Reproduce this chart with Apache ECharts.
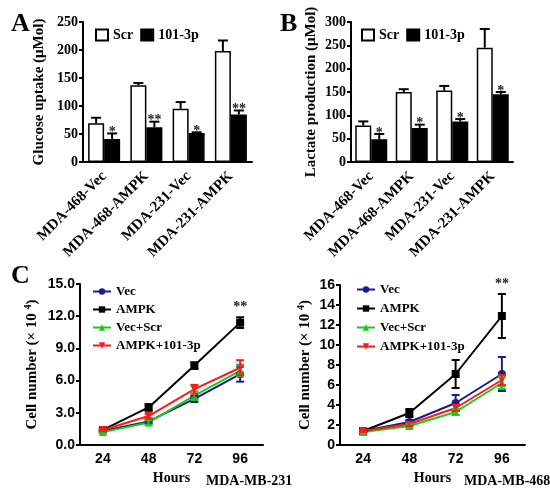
<!DOCTYPE html>
<html><head><meta charset="utf-8">
<script src="https://cdn.jsdelivr.net/npm/echarts@6/dist/echarts.min.js"></script>
<style>html,body{margin:0;padding:0;background:#fff}#c{width:550px;height:488px}</style>
</head><body><div id="c"></div>
<script>
// ---- data ----
const barCats = ['MDA-468-Vec', 'MDA-468-AMPK', 'MDA-231-Vec', 'MDA-231-AMPK'];
const glucoseScr = [69, 137, 95, 198];
const glucoseScrErr = [10, 4, 12, 19];
const glucose101 = [41, 62, 52, 85];
const glucose101Err = [10, 10, 1, 7];
const glucoseStars = ['*', '**', '*', '**'];
const lactateScr = [78, 150, 153, 245];
const lactateScrErr = [9, 6, 10, 40];
const lactate101 = [49, 73, 87, 145];
const lactate101Err = [11, 7, 5, 5];
const lactateStars = ['*', '*', '*', '*'];
const hours = ['24', '48', '72', '96'];
const lineNames = ['Vec', 'AMPK', 'Vec+Scr', 'AMPK+101-3p'];
// MDA-MB-231
const c231 = {
  'Vec': [1.3, 2.2, 4.3, 6.6],
  'AMPK': [1.4, 3.5, 7.4, 11.4],
  'Vec+Scr': [1.2, 2.1, 4.6, 6.9],
  'AMPK+101-3p': [1.4, 2.7, 5.2, 7.2]
};
const c231Err = {
  'Vec': [0.1, 0.2, 0.3, 0.7],
  'AMPK': [0.1, 0.3, 0.3, 0.5],
  'Vec+Scr': [0.1, 0.2, 0.4, 0.5],
  'AMPK+101-3p': [0.1, 0.2, 0.4, 0.7]
};
const c231Stars = ['', '', '', '**'];
// MDA-MB-468
const c468 = {
  'Vec': [1.4, 2.3, 4.2, 7.1],
  'AMPK': [1.4, 3.2, 7.1, 12.9],
  'Vec+Scr': [1.3, 1.9, 3.3, 6.2],
  'AMPK+101-3p': [1.4, 2.1, 3.7, 6.5]
};
const c468Err = {
  'Vec': [0.1, 0.2, 0.8, 1.7],
  'AMPK': [0.1, 0.4, 1.4, 2.2],
  'Vec+Scr': [0.1, 0.2, 0.3, 0.6],
  'AMPK+101-3p': [0.1, 0.2, 0.3, 0.5]
};
const c468Stars = ['', '', '', '**'];
const glucoseTicks = {min: 0, max: 250, interval: 50};
const lactateTicks = {min: 0, max: 300, interval: 50};
const c231Ticks = {min: 0, max: 15, interval: 3};
const c468Ticks = {min: 0, max: 16, interval: 2};

// ---- styles ----
const SERIF = '"Liberation Serif", "Times New Roman", serif';
const SANS = '"Liberation Sans", Arial, sans-serif';
const lineColors = {'Vec': '#1c1c8a', 'AMPK': '#000000', 'Vec+Scr': '#22c622', 'AMPK+101-3p': '#ff1a1a'};
const lineSymbols = {'Vec': 'circle', 'AMPK': 'rect', 'Vec+Scr': 'triangle', 'AMPK+101-3p': 'triangle'};
const lineRot = {'Vec': 0, 'AMPK': 0, 'Vec+Scr': 0, 'AMPK+101-3p': 180};
const BAR_W = 16;

function errSeries(xi, vals, errs, stars, offset, color, twoSided, starGap, capW) {
  return {
    type: 'custom', xAxisIndex: xi, yAxisIndex: xi, clip: false, z: 5,
    data: vals.map((v, i) => [i, v, errs[i]]),
    renderItem: function (params, api) {
      const x = api.value(0), v = api.value(1), e = api.value(2);
      const p = api.coord([x, v]);
      const pt = api.coord([x, v + e]);
      const pb = twoSided ? api.coord([x, v - e]) : p;
      const cx = p[0] + offset;
      const st = {stroke: color, lineWidth: 2};
      const ch = [
        {type: 'line', shape: {x1: cx, y1: pt[1], x2: cx, y2: pb[1]}, style: st},
        {type: 'line', shape: {x1: cx - capW, y1: pt[1], x2: cx + capW, y2: pt[1]}, style: st}
      ];
      if (twoSided) ch.push({type: 'line', shape: {x1: cx - capW, y1: pb[1], x2: cx + capW, y2: pb[1]}, style: st});
      const s = stars ? stars[params.dataIndex] : '';
      if (s) ch.push({type: 'text', style: {text: s, x: cx, y: pt[1] - starGap, align: 'center', verticalAlign: 'middle',
        font: 'bold 14px ' + SERIF, fill: '#222'}});
      return {type: 'group', children: ch};
    }
  };
}

function barAxisX(gi) {
  return {type: 'category', gridIndex: gi, data: barCats,
    axisLine: {lineStyle: {color: '#000', width: 2}},
    axisTick: {alignWithLabel: true, length: 4, lineStyle: {color: '#000', width: 2}},
    axisLabel: {rotate: 45, margin: 12, color: '#000', fontFamily: SERIF, fontWeight: 'bold', fontSize: 15}};
}
function barAxisY(gi, t, name, gap) {
  return {type: 'value', gridIndex: gi, min: t.min, max: t.max, interval: t.interval,
    name: name, nameLocation: 'middle', nameGap: gap, nameRotate: 90,
    nameTextStyle: {color: '#000', fontFamily: SERIF, fontWeight: 'bold', fontSize: 15},
    splitLine: {show: false},
    axisLine: {show: true, lineStyle: {color: '#000', width: 2}},
    axisTick: {show: true, length: 4, lineStyle: {color: '#000', width: 2}},
    axisLabel: {color: '#000', margin: 5, fontFamily: SERIF, fontWeight: 'bold', fontSize: 14}};
}
function lineAxisX(gi) {
  return {type: 'category', gridIndex: gi, data: hours, boundaryGap: true,
    name: 'Hours', nameLocation: 'middle', nameGap: 26,
    nameTextStyle: {color: '#000', fontFamily: SERIF, fontWeight: 'bold', fontSize: 14},
    axisLine: {lineStyle: {color: '#000', width: 2}},
    axisTick: {alignWithLabel: true, length: 4, lineStyle: {color: '#000', width: 2}},
    axisLabel: {margin: 7, color: '#000', fontFamily: SANS, fontWeight: 'bold', fontSize: 14}};
}
function lineAxisY(gi, t, gap, fixed) {
  return {type: 'value', gridIndex: gi, min: t.min, max: t.max, interval: t.interval,
    name: 'Cell number (× 10 {s|4})', nameLocation: 'middle', nameGap: gap, nameRotate: 90,
    nameTextStyle: {color: '#000', fontFamily: SERIF, fontWeight: 'bold', fontSize: 15,
      rich: {s: {fontFamily: SERIF, fontWeight: 'bold', fontSize: 10, padding: [0, 0, 9, 0]}}},
    splitLine: {show: false},
    axisLine: {show: true, lineStyle: {color: '#000', width: 2}},
    axisTick: {show: true, length: 4, lineStyle: {color: '#000', width: 2}},
    axisLabel: {color: '#000', margin: 5, fontFamily: SANS, fontWeight: 'bold', fontSize: 14,
      formatter: v => fixed ? v.toFixed(1) : String(v)}};
}

const series = [];
// Panel A bars
series.push({name: 'Scr', type: 'bar', xAxisIndex: 0, yAxisIndex: 0, data: glucoseScr, barWidth: BAR_W, barGap: '0%',
  itemStyle: {color: '#fff', borderColor: '#000', borderWidth: 1.5}});
series.push({name: '101-3p', type: 'bar', xAxisIndex: 0, yAxisIndex: 0, data: glucose101, barWidth: BAR_W, barGap: '0%',
  itemStyle: {color: '#000', borderColor: '#000', borderWidth: 1.5}});
series.push(errSeries(0, glucoseScr, glucoseScrErr, null, -BAR_W / 2, '#000', false, 0, 5));
series.push(errSeries(0, glucose101, glucose101Err, glucoseStars, BAR_W / 2, '#000', false, 1, 5));
// Panel B bars
series.push({name: 'Scr', type: 'bar', xAxisIndex: 1, yAxisIndex: 1, data: lactateScr, barWidth: BAR_W, barGap: '0%',
  itemStyle: {color: '#fff', borderColor: '#000', borderWidth: 1.5}});
series.push({name: '101-3p', type: 'bar', xAxisIndex: 1, yAxisIndex: 1, data: lactate101, barWidth: BAR_W, barGap: '0%',
  itemStyle: {color: '#000', borderColor: '#000', borderWidth: 1.5}});
series.push(errSeries(1, lactateScr, lactateScrErr, null, -BAR_W / 2, '#000', false, 0, 5));
series.push(errSeries(1, lactate101, lactate101Err, lactateStars, BAR_W / 2, '#000', false, 1, 5));
// Panel C lines
[[2, c231, c231Err, c231Stars], [3, c468, c468Err, c468Stars]].forEach(([gi, d, e, stars]) => {
  lineNames.forEach(n => {
    series.push({name: n, type: 'line', xAxisIndex: gi, yAxisIndex: gi, data: d[n],
      symbol: lineSymbols[n], symbolRotate: lineRot[n], symbolSize: 8,
      lineStyle: {color: lineColors[n], width: 2}, itemStyle: {color: lineColors[n]}, z: 3});
  });
  lineNames.forEach(n => {
    series.push(errSeries(gi, d[n], e[n], n === 'AMPK' ? stars : null, 0, lineColors[n], true, 10, 4));
  });
});

const legendText = {color: '#000', fontFamily: SERIF, fontWeight: 'bold', fontSize: 14};
const legendTextC = {color: '#000', fontFamily: SERIF, fontWeight: 'bold', fontSize: 13};
const option = {
  animation: false,
  backgroundColor: '#fff',
  title: [
    {text: 'A', left: 6, top: 6, textStyle: {fontFamily: SERIF, fontWeight: 'bold', fontSize: 26, color: '#000'}},
    {text: 'B', left: 275, top: 6, textStyle: {fontFamily: SERIF, fontWeight: 'bold', fontSize: 26, color: '#000'}},
    {text: 'C', left: 6, top: 258, textStyle: {fontFamily: SERIF, fontWeight: 'bold', fontSize: 26, color: '#000'}},
    {text: 'MDA-MB-231', left: 201, top: 469, textStyle: {fontFamily: SERIF, fontWeight: 'bold', fontSize: 14, color: '#000'}},
    {text: 'MDA-MB-468', left: 459, top: 469, textStyle: {fontFamily: SERIF, fontWeight: 'bold', fontSize: 14, color: '#000'}}
  ],
  legend: [
    {data: ['Scr', '101-3p'], left: 90, top: 23, itemWidth: 12, itemHeight: 11, itemGap: 7, icon: 'rect',
      textStyle: legendText, selectedMode: false},
    {data: [{name: 'Scr'}, {name: '101-3p'}], left: 356, top: 23, itemWidth: 12, itemHeight: 11, itemGap: 7, icon: 'rect',
      textStyle: legendText, selectedMode: false},
    {data: lineNames, left: 87, top: 280, orient: 'vertical', itemWidth: 18, itemHeight: 8, itemGap: 5,
      textStyle: legendTextC, selectedMode: false},
    {data: lineNames, left: 351, top: 278, orient: 'vertical', itemWidth: 18, itemHeight: 8, itemGap: 6,
      textStyle: legendTextC, selectedMode: false}
  ],
  grid: [
    {left: 83, top: 22, width: 169, height: 140},
    {left: 351, top: 22, width: 162, height: 140},
    {left: 80, top: 284, width: 183, height: 161},
    {left: 340, top: 285, width: 185, height: 160}
  ],
  xAxis: [barAxisX(0), barAxisX(1), lineAxisX(2), lineAxisX(3)],
  yAxis: [
    barAxisY(0, glucoseTicks, 'Glucose uptake (μMol)', 36),
    barAxisY(1, lactateTicks, 'Lactate production (μMol)', 32),
    lineAxisY(2, c231Ticks, 38, true),
    lineAxisY(3, c468Ticks, 25, false)
  ],
  series: series
};
const chart = echarts.init(document.getElementById('c'), null, {renderer: 'canvas'});
chart.setOption(option);
</script>
</body></html>
